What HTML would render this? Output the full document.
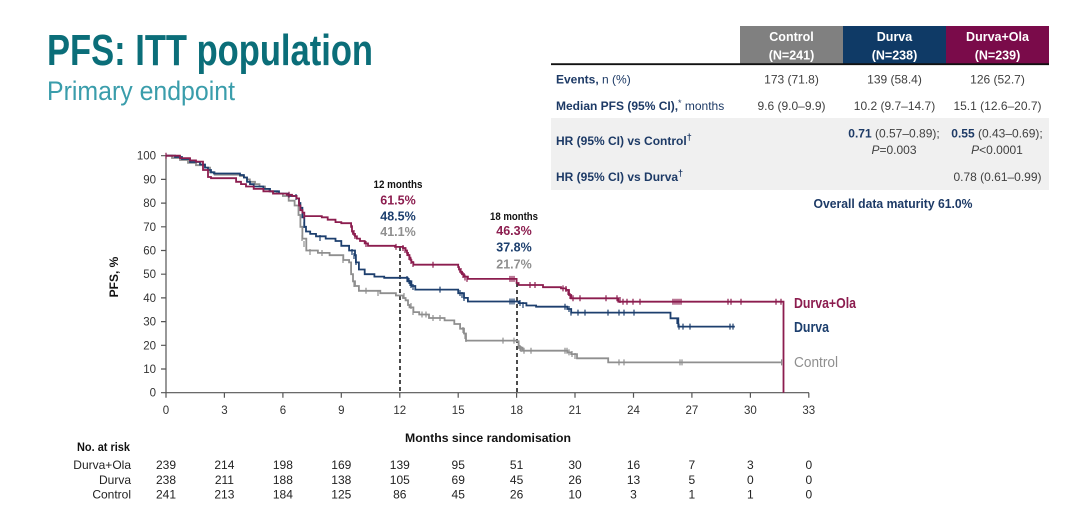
<!DOCTYPE html>
<html>
<head>
<meta charset="utf-8">
<style>
  html,body{margin:0;padding:0;background:#fff;}
  body{width:1080px;height:509px;overflow:hidden;}
  svg{display:block;font-family:"Liberation Sans",Arial,sans-serif;}
</style>
</head>
<body>
<svg width="1080" height="509" viewBox="0 0 1080 509" xmlns="http://www.w3.org/2000/svg">
  <rect x="0" y="0" width="1080" height="509" fill="#ffffff"/>

  <!-- Title -->
  <text x="47" y="65" font-size="44" font-weight="bold" fill="#0b6e79" textLength="326" lengthAdjust="spacingAndGlyphs">PFS: ITT population</text>
  <text x="47" y="100" font-size="27" fill="#3a9dab" textLength="188" lengthAdjust="spacingAndGlyphs">Primary endpoint</text>

  <!-- Table -->
  <rect x="740" y="26" width="103" height="37.5" fill="#808080"/>
  <rect x="843" y="26" width="103" height="37.5" fill="#0f3a66"/>
  <rect x="946" y="26" width="103" height="37.5" fill="#7a0b4a"/>
  <g font-size="12.5" font-weight="bold" fill="#ffffff" text-anchor="middle">
    <text x="791.5" y="41">Control</text>
    <text x="791.5" y="59.5">(N=241)</text>
    <text x="894.5" y="41">Durva</text>
    <text x="894.5" y="59.5">(N=238)</text>
    <text x="997.5" y="41">Durva+Ola</text>
    <text x="997.5" y="59.5">(N=239)</text>
  </g>
  <line x1="551" y1="64.2" x2="1049" y2="64.2" stroke="#111" stroke-width="1.8"/>
  <rect x="551" y="118" width="498" height="72" fill="#f0f0f0"/>

  <g font-size="12" fill="#1d3a66">
    <text x="556" y="83.5"><tspan font-weight="bold">Events,</tspan> n (%)</text>
    <text x="556" y="110"><tspan font-weight="bold">Median PFS (95% CI),</tspan><tspan font-size="9" dy="-4">*</tspan><tspan dy="4"> months</tspan></text>
    <text x="556" y="145" font-weight="bold">HR (95% CI) vs Control<tspan font-size="9" dy="-5">†</tspan></text>
    <text x="556" y="181" font-weight="bold">HR (95% CI) vs Durva<tspan font-size="9" dy="-5">†</tspan></text>
  </g>
  <g font-size="12" fill="#404040" text-anchor="middle">
    <text x="791.5" y="83.5">173 (71.8)</text>
    <text x="894.5" y="83.5">139 (58.4)</text>
    <text x="997.5" y="83.5">126 (52.7)</text>
    <text x="791.5" y="110">9.6 (9.0–9.9)</text>
    <text x="894.5" y="110">10.2 (9.7–14.7)</text>
    <text x="997.5" y="110">15.1 (12.6–20.7)</text>
    <text x="894" y="137.5"><tspan font-weight="bold" fill="#1d3a66">0.71</tspan> (0.57–0.89);</text>
    <text x="894" y="154"><tspan font-style="italic">P</tspan>=0.003</text>
    <text x="997" y="137.5"><tspan font-weight="bold" fill="#1d3a66">0.55</tspan> (0.43–0.69);</text>
    <text x="997" y="154"><tspan font-style="italic">P</tspan>&lt;0.0001</text>
    <text x="997.5" y="181">0.78 (0.61–0.99)</text>
  </g>
  <text x="893" y="208" font-size="12.5" font-weight="bold" fill="#1d3a66" text-anchor="middle" textLength="159" lengthAdjust="spacingAndGlyphs">Overall data maturity 61.0%</text>

  <!-- Axes -->
  <g stroke="#555" stroke-width="1.2" fill="none">
    <line x1="166" y1="155.7" x2="166" y2="392.7"/>
    <line x1="166" y1="392.7" x2="809" y2="392.7"/>
    <path d="M161,155.7h5M161,179.4h5M161,203.1h5M161,226.8h5M161,250.5h5M161,274.2h5M161,297.9h5M161,321.6h5M161,345.3h5M161,369h5M161,392.7h5"/>
    <path d="M166,392.7v5M224.4,392.7v5M282.9,392.7v5M341.3,392.7v5M399.8,392.7v5M458.2,392.7v5M516.6,392.7v5M575,392.7v5M633.5,392.7v5M691.9,392.7v5M750.4,392.7v5M808.8,392.7v5"/>
  </g>
  <g font-size="11.5" fill="#333" text-anchor="end">
    <text x="156" y="159.7">100</text>
    <text x="156" y="183.4">90</text>
    <text x="156" y="207.1">80</text>
    <text x="156" y="230.8">70</text>
    <text x="156" y="254.5">60</text>
    <text x="156" y="278.2">50</text>
    <text x="156" y="301.9">40</text>
    <text x="156" y="325.6">30</text>
    <text x="156" y="349.3">20</text>
    <text x="156" y="373">10</text>
    <text x="156" y="396.7">0</text>
  </g>
  <g font-size="11.5" fill="#333" text-anchor="middle">
    <text x="166" y="414">0</text>
    <text x="224.4" y="414">3</text>
    <text x="282.9" y="414">6</text>
    <text x="341.3" y="414">9</text>
    <text x="399.8" y="414">12</text>
    <text x="458.2" y="414">15</text>
    <text x="516.6" y="414">18</text>
    <text x="575" y="414">21</text>
    <text x="633.5" y="414">24</text>
    <text x="691.9" y="414">27</text>
    <text x="750.4" y="414">30</text>
    <text x="808.8" y="414">33</text>
  </g>
  <text transform="translate(118,277) rotate(-90)" font-size="12" font-weight="bold" fill="#111" text-anchor="middle">PFS, %</text>
  <text x="488" y="442" font-size="12" font-weight="bold" fill="#111" text-anchor="middle" textLength="166" lengthAdjust="spacingAndGlyphs">Months since randomisation</text>

  <!-- Dashed reference lines -->
  <g stroke="#111" stroke-width="1.5" stroke-dasharray="4,3" fill="none">
    <line x1="400" y1="247" x2="400" y2="392.7"/>
    <line x1="517" y1="283" x2="517" y2="392.7"/>
  </g>

  <!-- Control curve -->
  <path fill="none" stroke="#8f8f8f" stroke-width="1.8" d="M166,155.7 H172 V158 H180 V160 H188 V162.8 H196 V165.2 H205 V167.6 H210 V172.3 H214.7 V174.7 H240 V176 H244 V177.5 H247 V179.4 H249.8 V181.8 H255 V184.1 H259.5 V186.5 H265 V188.9 H269.2 V191.3 H277 V193.6 H282.9 V196 H288.7 V200.7 H294.6 V205.5 H298.5 V215 H300.4 V226.8 H302.4 V238.6 H306.3 V250.5 H317.9 V252.9 H329.6 V255.2 H343.3 V260 H349.1 V262.4 H351.1 V274.2 H353 V281.3 H355 V286 H358.9 V290.8 H380.3 V293.2 H395.9 V295.5 H403 V298 H405.6 V300.3 H408 V305 H409.5 V307.4 H413.4 V312.1 H419.2 V314.5 H429 V318 H444.6 V320.4 H454.3 V324 H460.1 V328.7 H464 V333.5 H466 V340.6 H516.6 V341.3 H518.6 V347.7 H522.5 V350.7 H567.3 V352.4 H571.2 V354.1 H577 V358.3 H608.2 V362.4 H781.6"/>
  <path fill="none" stroke="#8f8f8f" stroke-width="1.2" d="M302,238m0,-3v6 M304,244m0,-3v6 M310,252m0,-3v6 M322,253m0,-3v6 M343,260m0,-3v6 M351,268m0,-3v6 M354,284m0,-3v6 M366,290.8m0,-3v6 M378,293m0,-3v6 M404,296m0,-3v6 M411,306m0,-3v6 M413,312m0,-3v6 M422,314.5m0,-3v6 M426,314.5m0,-3v6 M433,318m0,-3v6 M440,318m0,-3v6 M463,330m0,-3v6 M465,336m0,-3v6 M466,339m0,-3v6 M503,340.6m0,-3v6 M514,340.6m0,-3v6 M519,346m0,-3v6 M520,348m0,-3v6 M521,349m0,-3v6 M524,350.7m0,-3v6 M531,350.7m0,-3v6 M565,350.7m0,-3v6 M567,350.7m0,-3v6 M569,352.4m0,-3v6 M572,354m0,-3v6 M575,356m0,-3v6 M619,362.4m0,-3v6 M624,362.4m0,-3v6 M680,362.4m0,-3v6 M682,362.4m0,-3v6 M781.6,362.4m0,-3v6"/>

  <!-- Durva curve -->
  <path fill="none" stroke="#1d3f6e" stroke-width="1.8" d="M166,155.7 H175 V157 H182 V159 H190 V162 H200 V164.5 H205 V167.6 H208 V170 H211 V172.3 H214 V173.5 H240 V175 H243.9 V177.5 H247 V181.8 H250 V184.1 H253.7 V186.5 H263.4 V188.9 H270 V191.3 H279 V193.6 H288.7 V196 H296.5 V198.4 H299 V203 H300.4 V207.8 H302.4 V217.3 H304.3 V226.8 H306 V231.5 H310.2 V233.9 H316 V236.3 H325.7 V238.6 H335.5 V241 H341.3 V245.8 H349.1 V250.5 H355 V255.2 H355.9 V262.4 H358.9 V269.5 H364.7 V274.2 H374.4 V276.6 H384.2 V277.8 H407.6 V281.3 H411.4 V286 H415.3 V289.6 H458.2 V293.2 H464 V297.9 H467.9 V301.5 H518.6 V303.1 H526.4 V305.5 H536.1 V306.7 H567.3 V309 H571.2 V312.6 H670.5 V318.3 H678.3 V326.6 H734.8"/>
  <path fill="none" stroke="#1d3f6e" stroke-width="1.2" d="M296,197m0,-3v6 M304,225m0,-3v6 M320,238m0,-3v6 M352,252m0,-3v6 M354,256m0,-3v6 M356,262m0,-3v6 M407,279m0,-3v6 M409,281m0,-3v6 M410,283m0,-3v6 M411,285m0,-3v6 M413,287m0,-3v6 M440,289.6m0,-3v6 M460,293m0,-3v6 M462,295m0,-3v6 M464,298m0,-3v6 M510,301.5m0,-3v6 M512,301.5m0,-3v6 M514,301.5m0,-3v6 M520,303m0,-3v6 M523,305m0,-3v6 M565,306.7m0,-3v6 M569,309m0,-3v6 M571,312.6m0,-3v6 M578,312.6m0,-3v6 M585,312.6m0,-3v6 M608,312.6m0,-3v6 M619,312.6m0,-3v6 M624,312.6m0,-3v6 M634,312.6m0,-3v6 M677,321m0,-3v6 M679,326.6m0,-3v6 M683,326.6m0,-3v6 M690,326.6m0,-3v6 M730,326.6m0,-3v6 M733,326.6m0,-3v6"/>

  <!-- Durva+Ola curve -->
  <path fill="none" stroke="#8c1d4f" stroke-width="1.8" d="M166,155.7 H180 V158.1 H190 V160.4 H196 V161.6 H203 V170 H208 V177 H211 V178.2 H236.1 V181.8 H241 V184.1 H246 V186.5 H253.7 V188.9 H263.4 V191.3 H273 V193.6 H286.8 V194.8 H292 V196 H296.5 V198.4 H299 V205.5 H300.4 V210.2 H302.4 V212.6 H304.3 V216.1 H321.8 V217.3 H327.7 V219.7 H335.5 V222.1 H341.3 V223.2 H351.1 V226.8 H352 V231.5 H353 V233.9 H355 V236.3 H356.9 V238.6 H360 V241 H364.7 V243.4 H368 V245.8 H395 V246.9 H403 V248.1 H405.6 V250.5 H407 V252.9 H408 V255.2 H409.5 V257.6 H410.5 V260 H411.4 V262.4 H413.4 V264.7 H458.2 V267.1 H459 V269.5 H460.1 V271.8 H462 V274.2 H464 V276.6 H467.9 V278.9 H516.6 V283 H518.6 V285 H543 V287.2 H561 V288.4 H566 V290 H569 V295 H571.2 V298.3 H618.3 V301.7 H783.5 V392.7"/>
  <path fill="none" stroke="#8c1d4f" stroke-width="1.2" d="M166,155.7m0,-3v6 M289,194.8m0,-3v6 M304,216m0,-3v6 M352,228m0,-3v6 M354,233m0,-3v6 M355,236m0,-3v6 M366,244m0,-3v6 M396,246.9m0,-3v6 M403,248m0,-3v6 M405,250m0,-3v6 M407,253m0,-3v6 M409,257m0,-3v6 M411,261m0,-3v6 M413,264m0,-3v6 M433,264.7m0,-3v6 M461,271m0,-3v6 M463,275m0,-3v6 M465,277.5m0,-3v6 M467,278.9m0,-3v6 M510,278.9m0,-3v6 M512,278.9m0,-3v6 M514,278.9m0,-3v6 M530,285m0,-3v6 M535,285m0,-3v6 M563,288.4m0,-3v6 M566,289m0,-3v6 M568,292m0,-3v6 M570,296m0,-3v6 M573,298.3m0,-3v6 M580,298.3m0,-3v6 M606,298.3m0,-3v6 M617,298.3m0,-3v6 M620,300m0,-3v6 M623,301.7m0,-3v6 M627,301.7m0,-3v6 M633,301.7m0,-3v6 M640,301.7m0,-3v6 M673,301.7m0,-3v6 M675,301.7m0,-3v6 M677,301.7m0,-3v6 M679,301.7m0,-3v6 M681,301.7m0,-3v6 M728,301.7m0,-3v6 M731,301.7m0,-3v6 M741,301.7m0,-3v6 M776,301.7m0,-3v6 M781,301.7m0,-3v6"/>

  <!-- Annotations -->
  <g text-anchor="middle">
    <text x="398" y="188" font-size="11" font-weight="bold" fill="#111" textLength="49" lengthAdjust="spacingAndGlyphs">12 months</text>
    <text x="398" y="204.5" font-size="12.5" font-weight="bold" fill="#8c1d4f">61.5%</text>
    <text x="398" y="220.5" font-size="12.5" font-weight="bold" fill="#1d3f6e">48.5%</text>
    <text x="398" y="236" font-size="12.5" font-weight="bold" fill="#8f8f8f">41.1%</text>
    <text x="514" y="220" font-size="11" font-weight="bold" fill="#111" textLength="48" lengthAdjust="spacingAndGlyphs">18 months</text>
    <text x="514" y="235" font-size="12.5" font-weight="bold" fill="#8c1d4f">46.3%</text>
    <text x="514" y="251.7" font-size="12.5" font-weight="bold" fill="#1d3f6e">37.8%</text>
    <text x="514" y="268.5" font-size="12.5" font-weight="bold" fill="#8f8f8f">21.7%</text>
  </g>

  <!-- Series labels -->
  <text x="794" y="308" font-size="15" font-weight="bold" fill="#8c1d4f" textLength="62" lengthAdjust="spacingAndGlyphs">Durva+Ola</text>
  <text x="794" y="332" font-size="15" font-weight="bold" fill="#1d3f6e" textLength="35" lengthAdjust="spacingAndGlyphs">Durva</text>
  <text x="794" y="367" font-size="15" fill="#8f8f8f" textLength="44" lengthAdjust="spacingAndGlyphs">Control</text>

  <!-- Number at risk -->
  <text x="77" y="451" font-size="12" font-weight="bold" fill="#111" textLength="53" lengthAdjust="spacingAndGlyphs">No. at risk</text>
  <g font-size="12" fill="#222" text-anchor="end">
    <text x="131" y="469">Durva+Ola</text>
    <text x="131" y="484">Durva</text>
    <text x="131" y="498.5">Control</text>
  </g>
  <g font-size="12" fill="#222" text-anchor="middle">
    <text x="166" y="469">239</text><text x="224.4" y="469">214</text><text x="282.9" y="469">198</text><text x="341.3" y="469">169</text><text x="399.8" y="469">139</text><text x="458.2" y="469">95</text><text x="516.6" y="469">51</text><text x="575" y="469">30</text><text x="633.5" y="469">16</text><text x="691.9" y="469">7</text><text x="750.4" y="469">3</text><text x="808.8" y="469">0</text>
    <text x="166" y="484">238</text><text x="224.4" y="484">211</text><text x="282.9" y="484">188</text><text x="341.3" y="484">138</text><text x="399.8" y="484">105</text><text x="458.2" y="484">69</text><text x="516.6" y="484">45</text><text x="575" y="484">26</text><text x="633.5" y="484">13</text><text x="691.9" y="484">5</text><text x="750.4" y="484">0</text><text x="808.8" y="484">0</text>
    <text x="166" y="498.5">241</text><text x="224.4" y="498.5">213</text><text x="282.9" y="498.5">184</text><text x="341.3" y="498.5">125</text><text x="399.8" y="498.5">86</text><text x="458.2" y="498.5">45</text><text x="516.6" y="498.5">26</text><text x="575" y="498.5">10</text><text x="633.5" y="498.5">3</text><text x="691.9" y="498.5">1</text><text x="750.4" y="498.5">1</text><text x="808.8" y="498.5">0</text>
  </g>
</svg>
</body>
</html>
